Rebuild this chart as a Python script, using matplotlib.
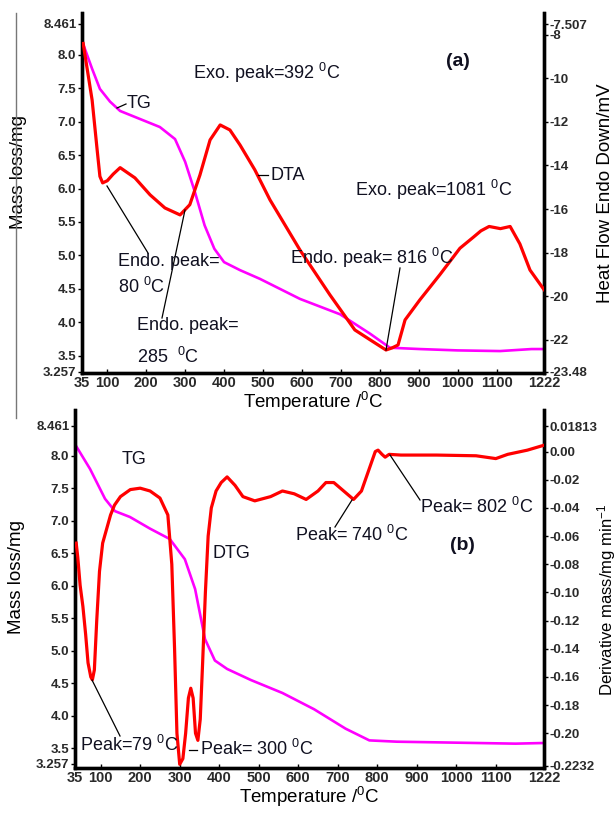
import matplotlib
matplotlib.use("Agg")
import matplotlib.pyplot as plt
from matplotlib.lines import Line2D

plt.rcParams['font.family'] = ['Liberation Sans', 'DejaVu Sans']
plt.rcParams['mathtext.fontset'] = 'custom'
plt.rcParams['mathtext.rm'] = 'Liberation Sans'
plt.rcParams['mathtext.it'] = 'Liberation Sans:italic'
plt.rcParams['mathtext.bf'] = 'Liberation Sans:bold'

# ---------------- data (a) ----------------
tg_a_T = [38, 61, 81, 107, 133, 184, 235, 274, 300, 325, 350, 375, 400, 441, 492, 595, 698, 775, 826, 903, 1000, 1109, 1190, 1222]
tg_a_m = [8.16, 7.79, 7.49, 7.30, 7.16, 7.04, 6.92, 6.74, 6.40, 5.95, 5.45, 5.10, 4.90, 4.78, 4.65, 4.35, 4.12, 3.83, 3.62, 3.60, 3.58, 3.57, 3.60, 3.60]
dta_T = [38, 61, 74, 81, 88, 100, 115, 133, 171, 210, 248, 287, 312, 338, 364, 390, 415, 441, 479, 518, 595, 672, 736, 775, 816, 831, 847, 865, 903, 955, 1006, 1040, 1060, 1081, 1110, 1135, 1160, 1186, 1222]
dta_v = [-8.4, -11.0, -13.3, -14.5, -14.8, -14.7, -14.4, -14.1, -14.57, -15.35, -15.95, -16.27, -15.8, -14.44, -12.83, -12.14, -12.37, -13.06, -14.2, -15.58, -17.88, -19.94, -21.55, -22.0, -22.47, -22.38, -22.24, -21.09, -20.17, -19.0, -17.8, -17.3, -17.0, -16.8, -16.9, -16.8, -17.6, -18.8, -19.7]

# ---------------- data (b) ----------------
tg_b_T = [38, 73, 111, 136, 174, 225, 275, 313, 339, 364, 389, 420, 480, 560, 640, 720, 780, 850, 950, 1050, 1150, 1222]
tg_b_m = [8.15, 7.80, 7.34, 7.15, 7.06, 6.88, 6.72, 6.41, 5.95, 5.18, 4.85, 4.72, 4.55, 4.35, 4.10, 3.80, 3.62, 3.60, 3.59, 3.58, 3.57, 3.58]
dtg_T = [38, 42, 48, 55, 62, 68, 75, 79, 84, 90, 97, 105, 115, 125, 135, 150, 175, 200, 225, 250, 270, 280, 287, 293, 300, 308, 315, 322, 328, 334, 340, 346, 352, 358, 365, 372, 380, 392, 405, 420, 440, 460, 490, 530, 560, 590, 620, 650, 670, 690, 715, 740, 760, 780, 795, 802, 812, 820, 830, 860, 950, 1050, 1100, 1130, 1180, 1222]
dtg_d = [-0.065, -0.075, -0.095, -0.11, -0.13, -0.15, -0.16, -0.162, -0.155, -0.12, -0.085, -0.065, -0.055, -0.045, -0.038, -0.032, -0.027, -0.026, -0.028, -0.033, -0.045, -0.08, -0.14, -0.2, -0.222, -0.218, -0.2, -0.175, -0.168, -0.175, -0.2, -0.205, -0.19, -0.15, -0.1, -0.06, -0.04, -0.028, -0.022, -0.018, -0.024, -0.032, -0.035, -0.032, -0.028, -0.030, -0.034, -0.028, -0.022, -0.022, -0.028, -0.034, -0.028, -0.012, 0.0, 0.001, -0.002, -0.004, -0.002, -0.0025, -0.0025, -0.003, -0.005, -0.002, 0.001, 0.0045]

x_ticks = [35, 100, 200, 300, 400, 500, 600, 700, 800, 900, 1000, 1100, 1222]
x_ticklabels = ['35', '100', '200', '300', '400', '500', '600', '700', '800', '900', '1000', '1100', '1222']
mass_ticks = [3.257, 3.5, 4.0, 4.5, 5.0, 5.5, 6.0, 6.5, 7.0, 7.5, 8.0, 8.461]
mass_ticklabels = ['3.257', '3.5', '4.0', '4.5', '5.0', '5.5', '6.0', '6.5', '7.0', '7.5', '8.0', '8.461']
hf_ticks = [-23.48, -22, -20, -18, -16, -14, -12, -10, -8, -7.507]
hf_ticklabels = ['-23.48', '-22', '-20', '-18', '-16', '-14', '-12', '-10', '-8', '-7.507']
dm_ticks = [-0.2232, -0.20, -0.18, -0.16, -0.14, -0.12, -0.10, -0.08, -0.06, -0.04, -0.02, 0.00, 0.01813]
dm_ticklabels = ['-0.2232', '-0.20', '-0.18', '-0.16', '-0.14', '-0.12', '-0.10', '-0.08', '-0.06', '-0.04', '-0.02', '0.00', '0.01813']

W, H = 616, 814
fig = plt.figure(figsize=(W / 100, H / 100), dpi=100)

RED = '#ff0000'
MAG = '#ff00ff'
TICKC = '#2a2a2a'
TXT = '#101020'
LAB = 13.5
ANN = 13


def rect(l, r, t, b):
    return [l / W, 1 - b / H, (r - l) / W, (b - t) / H]


def ptext(x, y, s, size=ANN, **kw):
    fig.text(x / W, 1 - y / H, s, fontsize=size, va='center', ha='left', color=TXT, **kw)


def pline(x0, y0, x1, y1):
    fig.add_artist(Line2D([x0 / W, x1 / W], [1 - y0 / H, 1 - y1 / H], color='black', lw=0.9))


def style(ax, axr):
    for a in (ax, axr):
        a.spines['top'].set_visible(False)
        for s in ('left', 'right', 'bottom'):
            a.spines[s].set_linewidth(2.4)
            a.spines[s].set_color('black')
        a.set_xlim(35, 1222)
        a.set_xticks(x_ticks)
    ax.set_xticklabels(x_ticklabels, fontsize=10.5, fontweight='bold', color=TICKC)
    ax.tick_params(axis='x', direction='in', length=3, width=1, pad=2)
    ax.tick_params(axis='y', direction='out', length=3, width=1, pad=1)
    axr.tick_params(axis='y', direction='out', length=3, width=1, pad=1)
    for lab in ax.get_yticklabels() + axr.get_yticklabels():
        lab.set_fontsize(9.5)
        lab.set_fontweight('bold')
        lab.set_color(TICKC)


# ================= panel (a) =================
ax1 = fig.add_axes(rect(82, 544, 13, 373))
ax1r = ax1.twinx()
ax1.plot(tg_a_T, tg_a_m, color=MAG, lw=1.9, zorder=2)
ax1r.plot(dta_T, dta_v, color=RED, lw=2.3, zorder=3)
ax1.set_ylim(3.242, 8.625)
ax1r.set_ylim(-23.526, -7.002)
ax1.set_yticks(mass_ticks)
ax1.set_yticklabels(mass_ticklabels)
ax1r.set_yticks(hf_ticks)
ax1r.set_yticklabels(hf_ticklabels)
style(ax1, ax1r)
ax1.set_ylabel('Mass loss/mg', fontsize=LAB)
ax1.yaxis.set_label_coords(-0.119, 0.558)
ax1r.set_ylabel('Heat Flow Endo Down/mV', fontsize=LAB)
ax1r.yaxis.set_label_coords(1.115, 0.5)
ax1.set_xlabel('Temperature /$^{0}$C', fontsize=LAB, labelpad=0)

ptext(193, 73, 'Exo. peak=392 $^{0}$C')
ptext(446, 62, '(a)', size=14, fontweight='bold')
ptext(127, 103, 'TG')
pline(117, 108, 126, 104)
ptext(270, 175, 'DTA')
pline(258, 175, 268, 175)
ptext(355, 190, 'Exo. peak=1081 $^{0}$C')
ptext(290, 258, 'Endo. peak= 816 $^{0}$C')
pline(386, 350, 400, 268)
ptext(118, 262, 'Endo. peak=')
ptext(118, 287, '80 $^{0}$C')
pline(107, 186, 148, 253)
ptext(137, 325, 'Endo. peak=')
ptext(137, 357, '285  $^{0}$C')
pline(185, 210, 162, 318)

# ================= panel (b) =================
ax2 = fig.add_axes(rect(75, 544, 410, 768))
ax2r = ax2.twinx()
ax2.plot(tg_b_T, tg_b_m, color=MAG, lw=1.9, zorder=2)
ax2r.plot(dtg_T, dtg_d, color=RED, lw=2.3, zorder=3)
ax2.set_ylim(3.195, 8.707)
ax2r.set_ylim(-0.22462, 0.02949)
ax2.set_yticks(mass_ticks)
ax2.set_yticklabels(mass_ticklabels)
ax2r.set_yticks(dm_ticks)
ax2r.set_yticklabels(dm_ticklabels)
style(ax2, ax2r)
ax2.set_ylabel('Mass loss/mg', fontsize=LAB)
ax2.yaxis.set_label_coords(-0.107, 0.534)
ax2r.set_ylabel('Derivative mass/mg min$^{-1}$', fontsize=12)
ax2r.yaxis.set_label_coords(1.108, 0.47)
ax2.set_xlabel('Temperature /$^{0}$C', fontsize=LAB, labelpad=0)

ptext(122, 460, 'TG')
ptext(212, 553, 'DTG')
ptext(450, 545, '(b)', size=14, fontweight='bold')
ptext(80, 745, 'Peak=79 $^{0}$C')
pline(92, 680, 120, 736)
ptext(200, 749, 'Peak= 300 $^{0}$C')
pline(189, 750, 197, 750)
ptext(295, 535, 'Peak= 740 $^{0}$C')
pline(352, 500, 335, 527)
ptext(420, 507, 'Peak= 802 $^{0}$C')
pline(390, 455, 420, 500)

# thin border line at left edge of the scanned figure
fig.add_artist(Line2D([16 / W, 16 / W], [1 - 13 / H, 1 - 418 / H], color='#777777', lw=1))

fig.savefig('out.png', dpi=100)
